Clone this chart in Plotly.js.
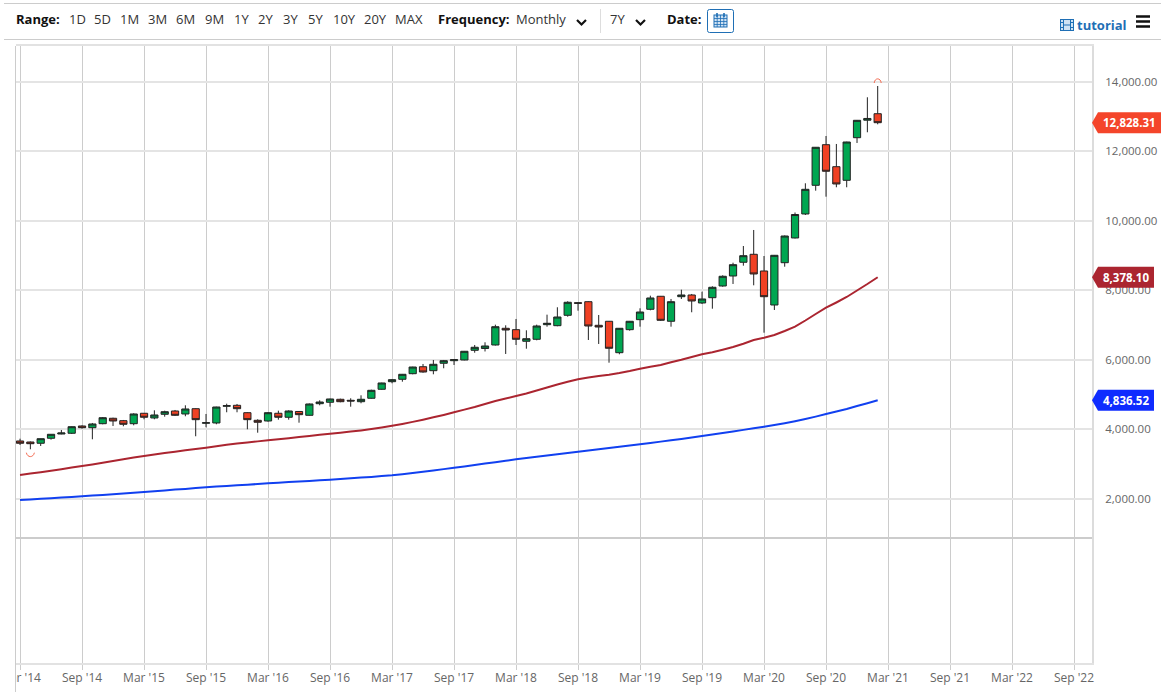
<!DOCTYPE html>
<html>
<head>
<meta charset="utf-8">
<script src="https://cdn.plot.ly/plotly-3.0.1.min.js"></script>
<style>
html,body{margin:0;padding:0;background:#fff;width:1161px;height:692px;overflow:hidden;font-family:"Open Sans",sans-serif;color:#222}
#chart{position:absolute;left:0;top:0;width:1161px;height:692px}
.t{position:absolute;top:10px;font-size:13px;line-height:18px;white-space:nowrap;color:#333;z-index:5}
.b{font-weight:700;color:#111}
.hl{position:absolute;left:4px;right:0;height:1px;background:#ccc;z-index:5}
#mask{position:absolute;left:0;top:46px;width:15px;height:646px;background:#fff;border-right:1px solid #ccc;z-index:4}
svg.i{position:absolute;z-index:5}
</style>
</head>
<body>
<div id="chart"></div>
<div id="mask"></div>
<div class="hl" style="top:3px"></div>
<div class="hl" style="top:39px"></div>
<div id="bar"></div>
<svg class="i" style="left:575px;top:18px" width="14" height="10"><path d="M2 2 L6.5 6.5 L11 2" fill="none" stroke="#111" stroke-width="2.2"/></svg>
<div style="position:absolute;left:600px;top:9px;width:1px;height:24px;background:#ddd;z-index:5"></div>
<svg class="i" style="left:634px;top:18px" width="14" height="10"><path d="M2 2 L6.5 6.5 L11 2" fill="none" stroke="#111" stroke-width="2.2"/></svg>
<svg class="i" style="left:707px;top:9px" width="27" height="25"><rect x="0.5" y="0.5" width="26" height="23" rx="2" fill="#fff" stroke="#1f6fb5"/><rect x="7" y="6" width="13" height="12" fill="#cfe2f3" stroke="#1f6fb5"/><path d="M7 9.5H20M7 12.5H20M7 15.5H20M10.2 6V18M13.5 6V18M16.8 6V18" stroke="#1f6fb5" stroke-width="0.8"/><path d="M10 4V8M17 4V8" stroke="#1f6fb5" stroke-width="1.6"/></svg>
<svg class="i" style="left:1060px;top:19px" width="15" height="13"><rect x="0.5" y="0.5" width="13" height="11" fill="#cfe2f3" stroke="#1f6fb5"/><path d="M3.5 0.5V11.5M10.5 0.5V11.5M3.5 6H10.5M0.5 3.5H3.5M0.5 8.5H3.5M10.5 3.5H13.5M10.5 8.5H13.5" stroke="#1f6fb5"/></svg>
<svg class="i" style="left:1135px;top:14px" width="16" height="15"><path d="M1 2.5H15M1 7.5H15M1 12.5H15" stroke="#111" stroke-width="2.4"/></svg>
<script>
// Toolbar text
var rangeButtons = ["1D","5D","1M","3M","6M","9M","1Y","2Y","3Y","5Y","10Y","20Y","MAX"];
var rangeLeft = [69,94,120,148,176,205,234,258,283,308,333,364,395];

// Month labels, Mar 2014 onward
var monthNames = ["Jan","Feb","Mar","Apr","May","Jun","Jul","Aug","Sep","Oct","Nov","Dec"];
var months = [];
for (var k = 0; k < 104; k++) {
  var m = (2 + k) % 12, yr = 2014 + Math.floor((2 + k) / 12);
  months.push(monthNames[m] + " " + yr);
}
var xTickText = ["Mar '14","Sep '14","Mar '15","Sep '15","Mar '16","Sep '16","Mar '17","Sep '17","Mar '18","Sep '18","Mar '19","Sep '19","Mar '20","Sep '20","Mar '21","Sep '21","Mar '22","Sep '22"];
var yTicks = [2000,4000,6000,8000,10000,12000,14000];

// Monthly candles
var open = [3661,3632,3595,3739,3862,3883,4093,4044,4159,4315,4246,4159,4459,4324,4430,4525,4439,4591,4171,4180,4661,4689,4476,4257,4237,4459,4344,4511,4401,4735,4776,4862,4833,4793,4891,5150,5369,5438,5599,5800,5686,5899,5974,5994,6273,6325,6426,6907,6867,6533,6590,7011,6982,7281,7644,7673,6993,7109,6204,6867,7155,7454,7829,7109,7817,7866,7636,7788,8125,8413,8808,9038,8557,7578,8796,9508,10199,11025,12195,11561,11169,12396,12900,13087];
var high = [3727,3646,3733,3862,3978,4081,4113,4180,4352,4332,4266,4459,4467,4545,4534,4554,4689,4602,4439,4648,4735,4727,4488,4286,4496,4534,4545,4525,4741,4833,4880,4880,4891,4977,5138,5340,5447,5591,5800,5879,5994,5994,6014,6253,6426,6504,7011,6993,7175,6849,7011,7299,7512,7685,7664,7685,7290,7117,6915,7117,7483,7846,7837,7751,8019,7895,7961,8117,8433,8796,9277,9738,8989,9018,9580,10242,11083,12128,12445,12215,12280,12906,13560,13885];
var low = [3546,3422,3517,3699,3854,3862,4015,3710,4142,4093,4085,4113,4286,4286,4361,4381,4373,3797,4056,4142,4488,4488,3998,3900,4217,4275,4275,4188,4392,4689,4649,4776,4649,4747,4880,5138,5323,5369,5582,5628,5582,5755,5850,5985,6204,6239,6411,6167,6426,6319,6561,6953,6965,7241,7414,6570,6455,5916,6158,6838,6953,7425,7117,6953,7751,7368,7607,7471,8105,8183,8710,8145,6780,7434,8681,9494,10170,10870,10697,10968,10968,12244,12552,12782];
var close = [3595,3583,3727,3854,3891,4073,4044,4151,4332,4237,4142,4439,4344,4410,4505,4401,4583,4275,4188,4640,4678,4591,4275,4200,4476,4344,4525,4419,4727,4784,4871,4793,4813,4862,5121,5332,5427,5582,5792,5648,5870,5974,6003,6245,6360,6397,6953,6858,6590,6607,6973,7051,7232,7656,7627,6973,6944,6331,6907,7109,7376,7780,7137,7673,7866,7693,7751,8088,8405,8739,8998,8471,7817,9009,9565,10184,10910,12120,11429,11063,12272,12897,12950,12828.31];

// Moving averages
var maRed = [2682,2722,2762,2805,2849,2895,2941,2987,3036,3085,3134,3183,3229,3272,3315,3353,3393,3431,3468,3511,3552,3586,3618,3650,3681,3710,3741,3776,3808,3840,3871,3900,3932,3966,4006,4050,4099,4153,4211,4274,4343,4412,4487,4565,4640,4726,4813,4885,4957,5029,5115,5202,5288,5366,5438,5490,5533,5570,5619,5677,5743,5801,5850,5928,6000,6080,6158,6215,6290,6368,6463,6570,6636,6714,6829,6953,7131,7318,7500,7650,7808,7995,8182,8378.10];
var maBlue = [1962,1979,1996,2014,2031,2048,2068,2088,2108,2129,2149,2169,2192,2215,2238,2261,2281,2304,2327,2348,2365,2385,2402,2422,2443,2460,2477,2495,2512,2529,2546,2566,2586,2607,2627,2650,2673,2705,2739,2774,2811,2851,2892,2929,2970,3010,3050,3091,3134,3171,3206,3243,3281,3315,3353,3387,3422,3459,3494,3528,3566,3603,3643,3681,3721,3762,3805,3848,3891,3935,3981,4027,4073,4122,4174,4231,4294,4363,4438,4510,4582,4669,4750,4836.52];

// Toolbar
var bar = document.getElementById("bar"), html = '<div class="t b" style="left:16px">Range:</div>';
rangeButtons.forEach(function (b, i) { html += '<div class="t" style="left:' + rangeLeft[i] + 'px">' + b + '</div>'; });
html += '<div class="t b" style="left:438px">Frequency:</div><div class="t" style="left:516px">Monthly</div>';
html += '<div class="t" style="left:610px">7Y</div><div class="t b" style="left:667px">Date:</div>';
html += '<div class="t" style="left:1077px;top:16px;font-weight:700;color:#1f6fb5">tutorial</div>';
bar.innerHTML = html;

var candleDates = months.slice(0, close.length);
var traces = [
  {type:"scatter", mode:"lines", x:candleDates, y:maRed, line:{color:"#ab2530", width:2, simplify:false}, hoverinfo:"skip"},
  {type:"scatter", mode:"lines", x:candleDates, y:maBlue, line:{color:"#1140f0", width:2, simplify:false}, hoverinfo:"skip"},
  {type:"candlestick", x:candleDates, open:open, high:high, low:low, close:close, whiskerwidth:0,
   increasing:{fillcolor:"#00a651", line:{color:"#222222", width:1}},
   decreasing:{fillcolor:"#f04124", line:{color:"#222222", width:1}}, hoverinfo:"skip"}
];

function tag(value, colour, w, label, cx) {
  return {
    shape: {type:"path", layer:"above", xref:"paper", yref:"y", xsizemode:"pixel", ysizemode:"pixel",
      xanchor:1, yanchor:value, fillcolor:colour, line:{width:0},
      path:"M0,0 L6,10.5 L" + w + ",10.5 L" + w + ",-10.5 L6,-10.5 Z"},
    annot: {xref:"paper", yref:"y", x:1, y:value, xanchor:"center", yanchor:"middle", xshift:cx, showarrow:false,
      text:label, font:{family:"Open Sans", size:11.5, color:"#ffffff", weight:700}}
  };
}
var tags = [
  tag(close[close.length-1], "#f4452a", 69, "12,828.31", 37),
  tag(maRed[maRed.length-1], "#ab2530", 62, "8,378.10", 34),
  tag(maBlue[maBlue.length-1], "#0f2cff", 62, "4,836.52", 34)
];

var arcLow = {type:"path", layer:"above", xref:"x", yref:"y", xsizemode:"pixel", ysizemode:"pixel",
  xanchor:months[1], yanchor:Math.min.apply(null, low), line:{color:"#f46a50", width:1},
  path:"M-4,-3.4 C-3,-8.6 3,-8.6 4,-3.4"};
var arcHigh = {type:"path", layer:"above", xref:"x", yref:"y", xsizemode:"pixel", ysizemode:"pixel",
  xanchor:months[83], yanchor:Math.max.apply(null, high), line:{color:"#f46a50", width:1},
  path:"M-3.5,3 C-3,8.5 3,8.5 3.5,3"};

var layout = {
  width:1161, height:692, margin:{l:16, r:69, t:46, b:29},
  paper_bgcolor:"#fff", plot_bgcolor:"#fff", showlegend:false, boxgap:0.3, boxgroupgap:0, dragmode:false,
  font:{family:"Open Sans", size:12, color:"#666"},
  xaxis:{type:"category", categoryorder:"array", categoryarray:months, range:[-0.39,103.74],
    tickmode:"array", tickvals:xTickText.map(function(_,i){return months[i*6];}), ticktext:xTickText,
    showgrid:true, gridcolor:"#cccccc", gridwidth:1, ticks:"outside", ticklen:5, tickcolor:"#ccc", ticklabelstandoff:-2,
    showline:true, linecolor:"#e2e2e2", linewidth:2, mirror:true, zeroline:false, rangeslider:{visible:false},
    tickangle:0, tickfont:{size:12, color:"#666"}, fixedrange:true},
  yaxis:{side:"right", range:[-2733,15037], tickmode:"array", tickvals:yTicks, tickformat:",.2f",
    showgrid:true, gridcolor:"#e4e4e4", gridwidth:2, ticks:"", ticklabelstandoff:9,
    showline:true, linecolor:"#dcdcdc", linewidth:2, zeroline:false, tickfont:{size:11.5, color:"#666"}, fixedrange:true},
  shapes:[
    {type:"line", xref:"paper", yref:"paper", x0:0, x1:1, y0:0.2026, y1:0.2026, line:{color:"#cccccc", width:2}},
    arcLow, arcHigh
  ].concat(tags.map(function(t){return t.shape;})),
  annotations:tags.map(function(t){return t.annot;})
};
Plotly.newPlot("chart", traces, layout, {displayModeBar:false, staticPlot:true});
</script>
</body>
</html>
